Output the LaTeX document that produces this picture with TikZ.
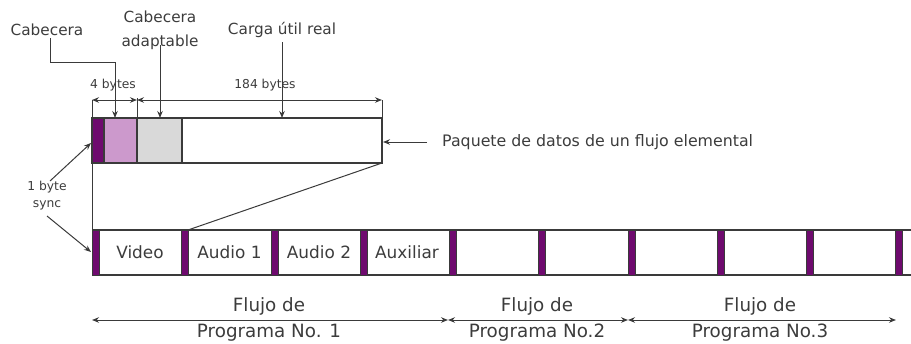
\documentclass[tikz,border=0pt]{standalone}
\usepackage{fontspec}
\setmainfont{DejaVu Sans}
\usetikzlibrary{arrows.meta,calc}
\definecolor{syncc}{HTML}{6E0A6E}
\definecolor{hdrc}{HTML}{CC99CC}
\definecolor{adapc}{HTML}{D9D9D9}
\definecolor{lnc}{HTML}{3A3A3A}
\definecolor{txtc}{HTML}{3C3C3C}
\tikzset{
  cell/.style={draw=lnc, line width=1.1pt, anchor=north west, minimum height=45pt, inner sep=0pt, outer sep=0pt},
  bar/.style={draw=lnc, fill=syncc, line width=0.8pt, anchor=north west, minimum width=7pt, minimum height=45pt, inner sep=0pt, outer sep=0pt},
  conn/.style={draw=lnc, line width=1pt},
  tip/.style={-{Stealth[length=7pt,width=5.5pt]}},
  dtip/.style={{Stealth[length=7pt,width=5.5pt]}-{Stealth[length=7pt,width=5.5pt]}},
  lbl/.style={text=txtc, font=\fontsize{15.3}{24}\selectfont, inner sep=0pt},
  sml/.style={text=txtc, font=\fontsize{12.3}{17}\selectfont, inner sep=0pt},
  big/.style={text=txtc, font=\fontsize{18.3}{21}\selectfont, inner sep=0pt},
  mid/.style={text=txtc, font=\fontsize{16.9}{20}\selectfont, inner sep=0pt},
}
\begin{document}
\begin{tikzpicture}[x=1pt,y=-1pt]
\useasboundingbox (0,0) rectangle (911,343);
% top packet
\node[cell, fill=syncc, minimum width=12pt] (ps) at (92,118) {};
\node[cell, fill=hdrc, minimum width=33pt] (ph) at (104,118) {};
\node[cell, fill=adapc, minimum width=45pt] (pa) at (137,118) {};
\node[cell, fill=white, minimum width=200pt] (pp) at (182,118) {};
% dimension lines
\coordinate (d0) at (92,100);
\coordinate (d1) at (137,100);
\coordinate (d1b) at (137,98);
\coordinate (d2) at (382,100);
\draw[conn] (d0) -- (ps.north west);
\draw[conn] (d1b) -- (ph.north east);
\draw[conn] (d2) -- (pp.north east);
\draw[conn, dtip] (d0) -- (d1);
\draw[conn, dtip] (d1) -- (d2);
\node[sml] (n4) at (113,85) {4 bytes};
\node[sml] (n184) at (265,85) {184 bytes};
% labels with arrows
\node[lbl] (lcab) at (47,30) {Cabecera};
\node[lbl, align=center] (ladap) at (160,30) {Cabecera\\adaptable};
\node[lbl] (lcarga) at (282,30) {Carga útil real};
\coordinate (c1) at (50,38);
\coordinate (c2) at (50,62);
\coordinate (c3) at (115,62);
\coordinate (c4) at (115,118);
\draw[conn, tip] (c1) -- (c2) -- (c3) -- (c4);
\coordinate (a1) at (160,45);
\draw[conn, tip] (a1) -- (160,118);
\coordinate (g1) at (282,42);
\draw[conn, tip] (g1) -- (282,118);
\node[lbl, font=\fontsize{15.8}{19}\selectfont, anchor=west] (lpaq) at (442,142) {Paquete de datos de un flujo elemental};
\coordinate (pq) at (427,142);
\draw[conn, tip] (pq) -- (383,142);
% sync label
\node[sml, align=center] (lsync) at (47,196) {1 byte\\sync};
\coordinate (s1) at (50,181);
\coordinate (s2) at (91,143);
\coordinate (s3) at (47,216);
\coordinate (s4) at (91,252);
\draw[conn, tip] (s1) -- (s2);
\draw[conn, tip] (s3) -- (s4);
% stream
\coordinate (st0) at (92,230);
\coordinate (st1) at (911,230);
\coordinate (sb0) at (92,275);
\coordinate (sb1) at (911,275);
\draw[conn, line width=1.1pt] (st0) -- (st1);
\draw[conn, line width=1.1pt] (sb0) -- (sb1);
\foreach \i/\x in {0/92,1/181,2/271,3/360,4/449,5/538,6/628,7/717,8/806,9/895} {
  \node[bar] (b\i) at (\x,230) {};
}
\node[mid] (tv) at (140,252) {Video};
\node[mid] (ta1) at (229.5,252) {Audio 1};
\node[mid] (ta2) at (319,252) {Audio 2};
\node[mid] (tx) at (407,252) {Auxiliar};
% zoom lines
\draw[conn] (ps.south west) -- (b0.north west);
\draw[conn] (pp.south east) -- (b1.north east);
% bottom arrows
\coordinate (f0) at (92,320);
\coordinate (f1) at (448,320);
\coordinate (f2) at (628,320);
\coordinate (f3) at (896,320);
\draw[conn, dtip] (f0) -- (f1);
\draw[conn, dtip] (f1) -- (f2);
\draw[conn, dtip] (f2) -- (f3);
\node[big] (p1a) at (269,306) {Flujo de};
\node[big] (p1b) at (269,333) {Programa No. 1};
\node[big] (p2a) at (537,306) {Flujo de};
\node[big] (p2b) at (537,333) {Programa No.2};
\node[big] (p3a) at (760,306) {Flujo de};
\node[big] (p3b) at (760,333) {Programa No.3};
\end{tikzpicture}
\end{document}
